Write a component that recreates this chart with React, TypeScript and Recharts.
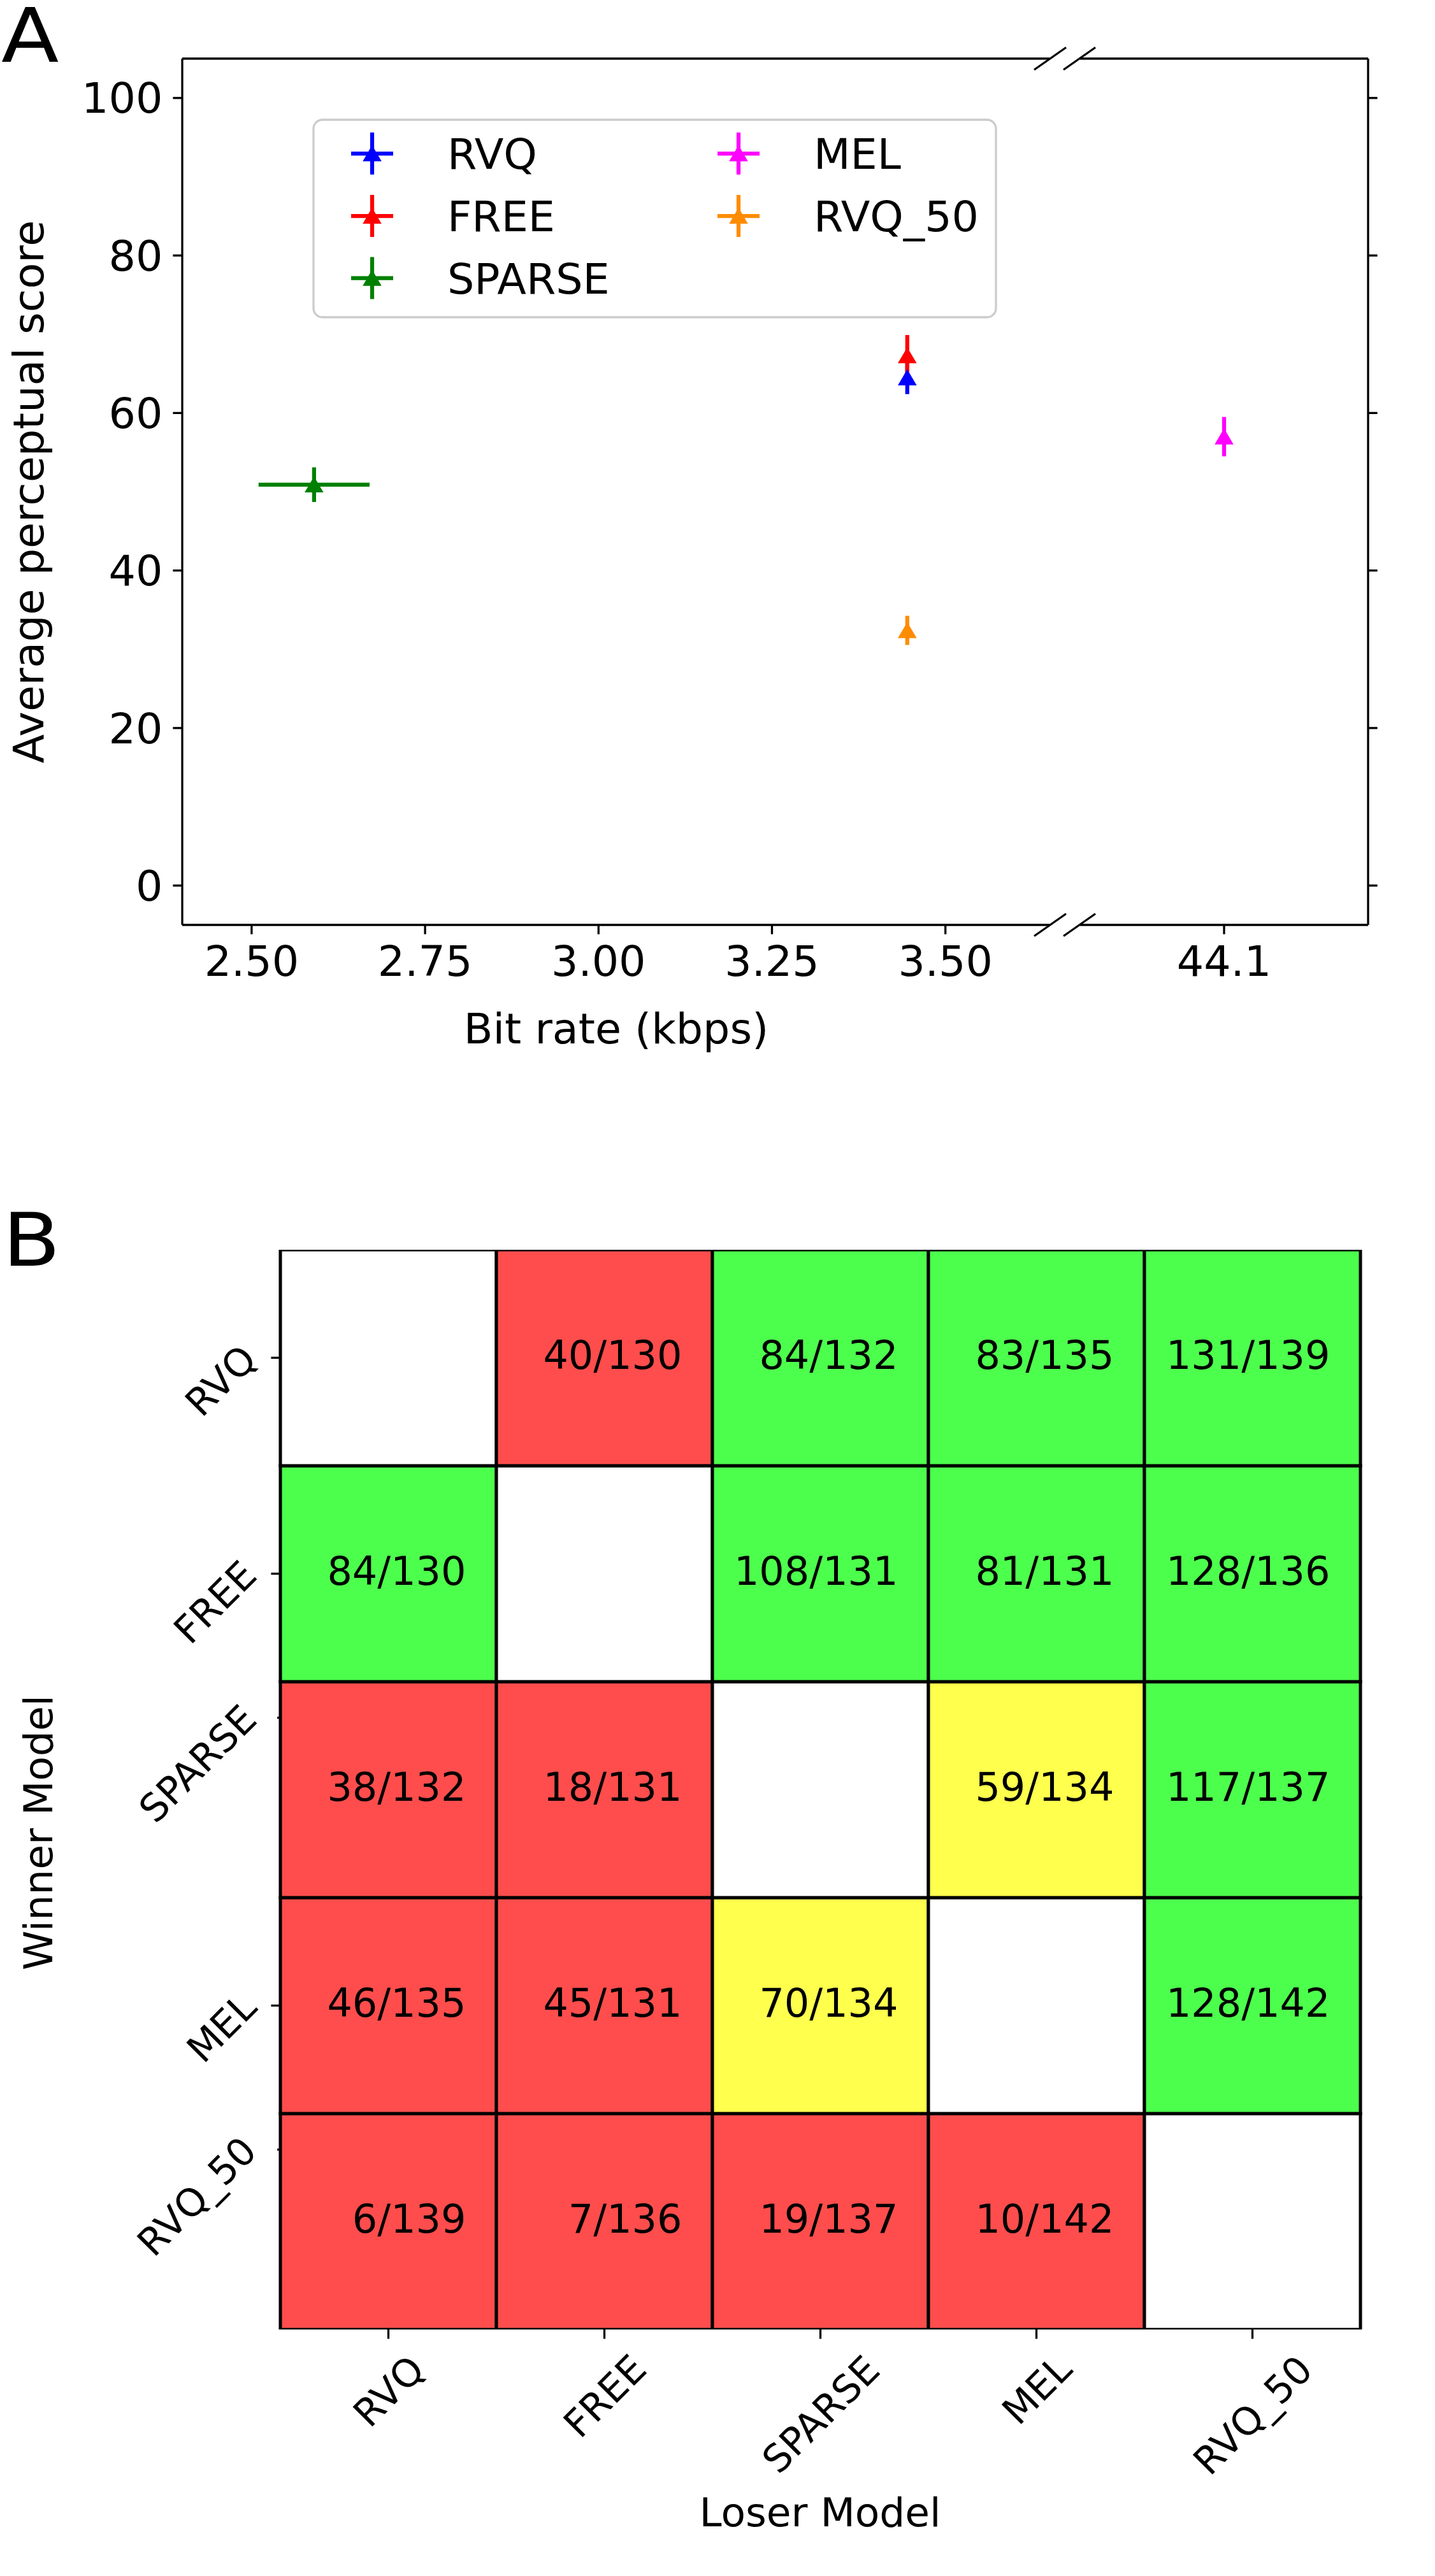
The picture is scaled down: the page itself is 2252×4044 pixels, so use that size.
import React from 'react';
import { ScatterChart, Scatter, XAxis, YAxis, ErrorBar, ReferenceLine, BarChart, Bar } from 'recharts';

const FONT = '"DejaVu Sans", "Noto Sans", sans-serif';

// ---------------- Panel A data ----------------
const seriesNames = ['RVQ', 'FREE', 'SPARSE', 'MEL', 'RVQ_50'];
const seriesColors = ['#0000ff', '#ff0000', '#008000', '#ff00ff', '#ff8c00'];
const bitRates = [3.445, 3.445, 2.59, 44.1, 3.445];
const bitRateErrors = [0, 0, 0.08, 0, 0];
const scores = [64.5, 67.3, 50.9, 57.0, 32.4];
const scoreErrors = [2.1, 2.6, 2.2, 2.5, 1.85];
const leftRateTicks = [2.5, 2.75, 3.0, 3.25, 3.5];
const rightRateTicks = [44.1];
const scoreTicks = [0, 20, 40, 60, 80, 100];
const leftRateDomain = [2.4, 3.65];
const rightRateDomain = [43.9, 44.3];
const scoreDomain = [-5, 105];

// ---------------- Panel B data ----------------
const models = ['RVQ', 'FREE', 'SPARSE', 'MEL', 'RVQ_50'];
const wins = [
  [null, 40, 84, 83, 131],
  [84, null, 108, 81, 128],
  [38, 18, null, 59, 117],
  [46, 45, 70, null, 128],
  [6, 7, 19, 10, null],
];
const totals = [
  [null, 130, 132, 135, 139],
  [130, null, 131, 131, 136],
  [132, 131, null, 134, 137],
  [135, 131, 134, null, 142],
  [139, 136, 137, 142, null],
];
const outcomes = [
  ['', 'L', 'W', 'W', 'W'],
  ['W', '', 'W', 'W', 'W'],
  ['L', 'L', '', 'T', 'W'],
  ['L', 'L', 'T', '', 'W'],
  ['L', 'L', 'L', 'L', ''],
];
const winnerTickValues = [4.5, 3.5, 2.833, 1.5, 0.833];

// ---------------- styles ----------------
const outcomeColor: Record<string, string> = { W: '#4dff4d', L: '#ff4d4d', T: '#ffff4d', '': '#ffffff' };
const LW = 3.3;
const FS_A = 66.7;
const FS_B_TICK = 60;
const FS_B_CELL = 62;
const FS_B_LABEL = 63;
const shortTickLabels = ['SPARSE', 'RVQ_50'];
const ADV: Record<string, number> = {
  R: 0.695, V: 0.684, Q: 0.787, _: 0.5, '5': 0.636, '0': 0.636, F: 0.575, E: 0.632,
  S: 0.635, P: 0.603, A: 0.684, M: 0.863, L: 0.557,
};

const seriesData = seriesNames.map((name, i) => ({
  name,
  color: seriesColors[i],
  points: [{ x: bitRates[i], y: scores[i], xe: bitRateErrors[i], ye: scoreErrors[i] }],
}));

const inDomain = (v: number, d: number[]) => v >= d[0] && v <= d[1];

const triangle = (color: string) => (props: any) => {
  const { cx, cy } = props;
  if (cx == null || cy == null) return <g />;
  return (
    <polygon
      points={`${cx},${cy - 11.5} ${cx - 13.5},${cy + 11.5} ${cx + 13.5},${cy + 11.5}`}
      fill={color}
      stroke={color}
      strokeWidth={1.5}
      strokeLinejoin="miter"
    />
  );
};

const renderSeries = (domain: number[], yAxisId?: string) =>
  seriesData
    .filter((s) => inDomain(s.points[0].x, domain))
    .map((s) => (
      <Scatter
        key={s.name}
        name={s.name}
        data={s.points}
        fill={s.color}
        isAnimationActive={false}
        shape={triangle(s.color)}
        {...(yAxisId ? { yAxisId } : {})}
      >
        <ErrorBar dataKey="ye" direction="y" width={0} stroke={s.color} strokeWidth={6.25} isAnimationActive={false} />
        <ErrorBar dataKey="xe" direction="x" width={0} stroke={s.color} strokeWidth={6.25} isAnimationActive={false} />
      </Scatter>
    ));

const axisLineStyle = { stroke: '#000', strokeWidth: LW };
const tickStyleA = { fill: '#000', fontSize: FS_A, fontFamily: FONT };

// ---------------- heatmap pieces ----------------
const heatRows = models.map((loser, j) => {
  const row: any = { loser };
  models.forEach((_w, i) => {
    row['u' + i] = 1;
    row['t' + i] = wins[i][j] == null ? '' : `${wins[i][j]}/${totals[i][j]}`;
    row['o' + i] = outcomes[i][j];
  });
  return row;
});
const stackOrder = [4, 3, 2, 1, 0];

const cellShape = (i: number) => (p: any) => {
  const { x, y, width, height, payload } = p;
  const fill = outcomeColor[payload['o' + i]] || '#ffffff';
  const label = payload['t' + i];
  return (
    <g>
      <rect x={x} y={y} width={width} height={height} fill={fill} stroke="#000" strokeWidth={5} />
      {label ? (
        <text
          x={x + width / 2 + 122}
          y={y + height / 2 + 17.5}
          textAnchor="end"
          fontSize={FS_B_CELL}
          fontFamily={FONT}
          fill="#000"
        >
          {label}
        </text>
      ) : null}
    </g>
  );
};

const textLen = (s: string, fs: number) =>
  s.split('').reduce((acc, ch) => acc + (ADV[ch] ?? 0.62), 0) * fs;

const renderLoserTick = (props: any) => {
  const { x, y, payload } = props;
  const label = String(payload.value);
  const ink = textLen(label, FS_B_TICK) - 0.1 * FS_B_TICK;
  const cap = 0.729 * FS_B_TICK;
  const h = (ink + cap) * Math.SQRT1_2;
  const cx = x;
  const cy = y + 22.4 + h / 2;
  return (
    <text
      x={cx}
      y={cy}
      dy={cap / 2}
      textAnchor="middle"
      fontSize={FS_B_TICK}
      fontFamily={FONT}
      fill="#000"
      transform={`rotate(-45 ${cx} ${cy})`}
    >
      {label}
    </text>
  );
};

const renderWinnerTick = (props: any) => {
  const { x, y, payload } = props;
  const idx = winnerTickValues.indexOf(payload.value);
  const label = idx >= 0 ? models[idx] : '';
  const len = shortTickLabels.includes(label) ? 5 : 14.6;
  const ax = x - 34;
  const ay = y + 6;
  return (
    <g>
      <line x1={x - len} y1={y} x2={x} y2={y} stroke="#000" strokeWidth={LW} />
      <text
        x={ax}
        y={ay}
        textAnchor="end"
        fontSize={FS_B_TICK}
        fontFamily={FONT}
        fill="#000"
        transform={`rotate(-45 ${ax} ${ay})`}
      >
        {label}
      </text>
    </g>
  );
};

// ---------------- legend (panel A) ----------------
const legendCols = [
  { handleX: 584, textX: 702, items: [0, 1, 2] },
  { handleX: 1159, textX: 1277, items: [3, 4] },
];
const legendRowY = [241, 339, 436.5];

const LegendA = () => (
  <g>
    <rect x={492} y={188} width={1071} height={310} rx={14} ry={14} fill="rgba(255,255,255,0.8)" stroke="#cccccc" strokeWidth={LW} />
    {legendCols.map((col, ci) =>
      col.items.map((si, ri) => {
        const cy = legendRowY[ri];
        const c = seriesColors[si];
        const hx = col.handleX;
        return (
          <g key={`${ci}-${ri}`}>
            <line x1={hx - 33} y1={cy} x2={hx + 33} y2={cy} stroke={c} strokeWidth={6.25} />
            <line x1={hx} y1={cy - 33} x2={hx} y2={cy + 33} stroke={c} strokeWidth={6.25} />
            <polygon points={`${hx},${cy - 11.5} ${hx - 13.5},${cy + 11.5} ${hx + 13.5},${cy + 11.5}`} fill={c} stroke={c} strokeWidth={1.5} />
            <text x={col.textX} y={cy + 24.3} fontSize={FS_A} fontFamily={FONT} fill="#000">
              {seriesNames[si]}
            </text>
          </g>
        );
      })
    )}
  </g>
);

const breakMark = (cx: number, cy: number, key: string) => (
  <line key={key} x1={cx - 25} y1={cy + 17.5} x2={cx + 25} y2={cy - 17.5} stroke="#000" strokeWidth={LW} />
);

export default function App() {
  return (
    <div style={{ position: 'absolute', left: 0, top: 0, width: 2252, height: 4044, background: '#ffffff', overflow: 'hidden' }}>
      {/* Panel A, left part of broken axis */}
      <div style={{ position: 'absolute', left: 0, top: 0 }}>
        <ScatterChart width={1700} height={1700} margin={{ top: 92, right: 53, bottom: 0, left: 0 }}>
          <XAxis
            type="number"
            dataKey="x"
            domain={leftRateDomain}
            allowDataOverflow
            ticks={leftRateTicks}
            interval={0}
            tickFormatter={(v: number) => v.toFixed(2)}
            height={248}
            tickSize={14.6}
            tickMargin={18}
            axisLine={axisLineStyle}
            tickLine={axisLineStyle}
            tick={tickStyleA}
          />
          <YAxis
            type="number"
            dataKey="y"
            domain={scoreDomain}
            allowDataOverflow
            ticks={scoreTicks}
            interval={0}
            width={286}
            tickSize={14.6}
            tickMargin={16}
            axisLine={axisLineStyle}
            tickLine={axisLineStyle}
            tick={tickStyleA}
          />
          <ReferenceLine y={105} stroke="#000" strokeWidth={LW} />
          {renderSeries(leftRateDomain)}
        </ScatterChart>
      </div>

      {/* Panel A, right part of broken axis */}
      <div style={{ position: 'absolute', left: 1600, top: 0 }}>
        <ScatterChart width={652} height={1700} margin={{ top: 92, right: 0, bottom: 0, left: 95 }}>
          <XAxis
            type="number"
            dataKey="x"
            domain={rightRateDomain}
            allowDataOverflow
            ticks={rightRateTicks}
            interval={0}
            tickFormatter={(v: number) => v.toFixed(1)}
            height={248}
            tickSize={14.6}
            tickMargin={18}
            axisLine={axisLineStyle}
            tickLine={axisLineStyle}
            tick={tickStyleA}
          />
          <YAxis
            yAxisId="r"
            orientation="right"
            type="number"
            dataKey="y"
            domain={scoreDomain}
            allowDataOverflow
            ticks={scoreTicks}
            interval={0}
            width={105}
            tickSize={14.6}
            axisLine={axisLineStyle}
            tickLine={axisLineStyle}
            tick={() => <g />}
          />
          <ReferenceLine yAxisId="r" y={105} stroke="#000" strokeWidth={LW} />
          {renderSeries(rightRateDomain, 'r')}
        </ScatterChart>
      </div>

      {/* Panel B heatmap */}
      <div style={{ position: 'absolute', left: 0, top: 1850 }}>
        <BarChart
          width={2252}
          height={2194}
          data={heatRows}
          margin={{ top: 112, right: 117, bottom: 0, left: 0 }}
          barCategoryGap={0}
          barGap={0}
        >
          <XAxis
            dataKey="loser"
            type="category"
            height={387}
            tickSize={14.6}
            tickMargin={0}
            axisLine={false}
            tickLine={axisLineStyle}
            tick={renderLoserTick}
            interval={0}
          />
          <YAxis
            type="number"
            domain={[0, 5]}
            allowDataOverflow
            ticks={winnerTickValues}
            interval={0}
            width={440}
            tickSize={0}
            tickMargin={0}
            axisLine={false}
            tickLine={false}
            tick={renderWinnerTick}
          />
          {stackOrder.map((i) => (
            <Bar key={i} dataKey={'u' + i} stackId="cells" isAnimationActive={false} shape={cellShape(i)} />
          ))}
        </BarChart>
      </div>

      {/* overlay: panel letters, axis titles, legend, break marks */}
      <svg width={2252} height={4044} style={{ position: 'absolute', left: 0, top: 0, pointerEvents: 'none' }}>
        <text transform="translate(2 97) scale(1.12 1)" fontSize={118} fontFamily={FONT} fill="#000">A</text>
        <text transform="translate(4 1987) scale(1.14 1)" fontSize={116} fontFamily={FONT} fill="#000">B</text>

        <text x={68} y={772} transform="rotate(-90 68 772)" textAnchor="middle" fontSize={FS_A} fontFamily={FONT} fill="#000">
          Average perceptual score
        </text>
        <text x={967} y={1638} textAnchor="middle" fontSize={FS_A} fontFamily={FONT} fill="#000">
          Bit rate (kbps)
        </text>

        <LegendA />

        {breakMark(1648, 92, 'b1')}
        {breakMark(1694, 92, 'b2')}
        {breakMark(1648, 1452, 'b3')}
        {breakMark(1694, 1452, 'b4')}

        <text x={82} y={2877} transform="rotate(-90 82 2877)" textAnchor="middle" fontSize={FS_B_LABEL} fontFamily={FONT} fill="#000">
          Winner Model
        </text>
        <text x={1287} y={3966} textAnchor="middle" fontSize={FS_B_LABEL} fontFamily={FONT} fill="#000">
          Loser Model
        </text>
      </svg>
    </div>
  );
}
